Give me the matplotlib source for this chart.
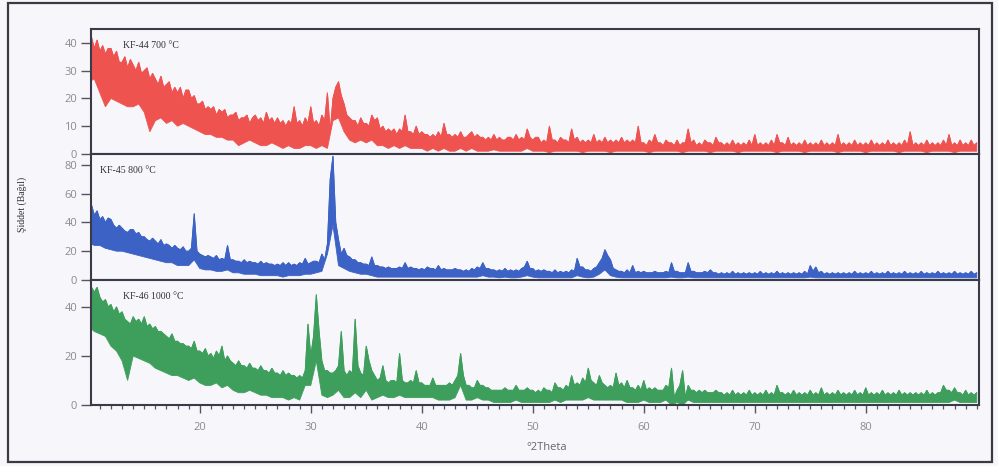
import numpy as np
import matplotlib
matplotlib.use("Agg")
import matplotlib.pyplot as plt
from matplotlib.patches import Rectangle
from matplotlib.ticker import MultipleLocator

# Grids: upper edge of each noisy XRD band every 0.25 deg, lower edge every 0.5 deg (10..90)
top_start, top_step = 10.0, 0.25
base_start, base_step = 10.0, 0.5

# ---- KF-44 700 °C ----
kf44_top = [
    40, 42, 38, 41,  37, 39, 36, 38,  38, 35, 37, 33,  33, 35, 31, 34,
    32, 30, 33, 29,  30, 31, 27, 29,  27, 25, 28, 24,  25, 26, 22, 24,
    22, 24, 20, 23,  23, 20, 21, 18,  18, 19, 16, 17,  16, 17, 14, 16,
    15, 16, 13, 14,  14, 15, 12, 13,  13, 14, 11, 13,  14, 12, 13, 11,
    15, 12, 13, 11,  13, 11, 12, 10,  12, 11, 17, 11,  12, 10, 13, 11,
    17, 11, 12, 10,  14, 12, 22, 8,   20, 24, 26, 21,  18, 14, 13, 12,
    12, 10, 13, 11,  11, 10, 14, 12,  13, 9, 10, 8,    9, 8, 9, 7,
    9, 8, 14, 8,     8, 7, 10, 7,     8, 7, 7, 6,      7, 6, 8, 6,
    11, 7, 7, 6,     7, 6, 8, 6,      6, 7, 8, 6,      7, 6, 6, 5,
    6, 5, 7, 5,      6, 5, 5, 6,      6, 5, 7, 5,      6, 5, 9, 6,
    5, 6, 6, 4,      5, 4, 10, 5,     5, 4, 6, 5,      5, 4, 9, 5,
    6, 4, 5, 4,      5, 4, 7, 4,      5, 4, 6, 4,      5, 4, 5, 4,
    6, 4, 5, 4,      5, 4, 10, 4,     4, 3, 5, 4,      7, 4, 4, 3,
    5, 4, 4, 3,      5, 3, 4, 4,      9, 4, 5, 3,      4, 3, 5, 4,
    4, 3, 6, 4,      4, 3, 4, 3,      5, 3, 4, 3,      4, 3, 5, 3,
    7, 3, 4, 3,      4, 3, 5, 3,      7, 4, 4, 3,      6, 3, 4, 3,
    4, 3, 5, 3,      4, 3, 4, 3,      5, 3, 4, 3,      4, 3, 7, 3,
    4, 3, 4, 3,      5, 3, 4, 3,      4, 3, 5, 3,      4, 3, 4, 3,
    5, 3, 4, 3,      4, 3, 5, 3,      8, 3, 4, 3,      4, 3, 5, 3,
    4, 3, 4, 3,      5, 3, 7, 3,      4, 3, 5, 3,      4, 3, 5, 3,
    4,
]
kf44_base = [
    26, 27, 22, 17, 20, 19, 18, 17, 17, 18, 15, 8, 12, 13, 11, 12,
    10, 11, 10, 9, 8, 7, 7, 6, 6, 5, 5, 3, 4, 5, 4, 3,
    3, 4, 3, 2, 3, 2, 2, 3, 3, 2, 3, 2, 12, 13, 8, 5,
    4, 5, 4, 5, 3, 3, 2, 3, 2, 3, 2, 2, 2, 1, 2, 1,
    2, 1, 1, 2, 1, 2, 1, 1, 1, 1.5, 1, 1, 1, 1, 1, 2,
    1, 1, 1, 0.5, 1, 1, 1, 1, 1, 0.5, 1, 1, 1, 1, 0.5, 1,
    1, 1, 1, 1, 1, 0.5, 1, 1, 1, 1, 1, 0.5, 1, 1, 1, 1,
    0.5, 1, 1, 1, 1, 0.5, 1, 1, 1, 1, 1, 1, 0.5, 1, 1, 1,
    1, 0.5, 1, 1, 1, 1, 1, 0.5, 1, 1, 1, 1, 0.5, 1, 1, 1,
    1, 1, 0.5, 1, 1, 1, 1, 0.5, 1, 1, 1, 1, 0.5, 1, 1, 1,
    1,
]

# ---- KF-45 800 °C ----
kf45_top = [
    50, 52, 45, 48,  42, 44, 40, 43,  42, 38, 36, 38,  36, 34, 33, 35,
    35, 32, 33, 30,  30, 28, 27, 29,  27, 25, 28, 24,  25, 24, 22, 24,
    22, 21, 23, 20,  20, 22, 46, 20,  18, 17, 16, 17,  16, 15, 17, 14,
    15, 14, 24, 14,  14, 13, 13, 12,  14, 12, 13, 12,  12, 11, 13, 11,
    12, 11, 11, 10,  11, 10, 12, 10,  12, 10, 11, 10,  12, 11, 15, 11,
    12, 13, 13, 12,  18, 14, 25, 70,  86, 40, 28, 18,  22, 17, 16, 14,
    14, 12, 12, 11,  11, 10, 16, 10,  10, 9, 9, 8,     9, 8, 8, 8,
    9, 8, 12, 8,     9, 8, 8, 7,      8, 7, 9, 8,      8, 7, 10, 7,
    8, 7, 7, 7,      8, 7, 7, 6,      7, 6, 8, 7,      9, 8, 12, 8,
    8, 7, 7, 6,      7, 6, 8, 6,      7, 6, 7, 6,      8, 9, 13, 8,
    8, 6, 7, 6,      7, 6, 6, 5,      7, 5, 6, 5,      6, 5, 7, 6,
    15, 9, 9, 7,     7, 6, 8, 9,      12, 15, 21, 17,  14, 8, 7, 6,
    6, 5, 7, 5,      10, 5, 6, 5,     6, 5, 5, 5,      6, 5, 5, 5,
    6, 5, 12, 6,     6, 5, 5, 5,      12, 6, 6, 5,     5, 5, 6, 5,
    7, 5, 5, 4,      5, 4, 5, 4,      6, 4, 5, 4,      5, 4, 5, 4,
    5, 4, 6, 4,      5, 4, 5, 4,      6, 4, 5, 4,      5, 4, 5, 4,
    5, 4, 6, 4,      10, 6, 9, 5,     6, 4, 5, 4,      5, 4, 5, 4,
    5, 4, 5, 4,      6, 4, 5, 4,      5, 4, 6, 4,      5, 4, 5, 4,
    6, 4, 5, 4,      5, 4, 6, 4,      5, 4, 5, 4,      6, 4, 5, 4,
    5, 4, 6, 4,      5, 4, 5, 4,      6, 4, 5, 4,      5, 4, 6, 4,
    5,
]
kf45_base = [
    26, 24, 24, 22, 21, 20, 20, 19, 18, 17, 16, 15, 14, 13, 12, 12,
    10, 10, 10, 14, 8, 7, 7, 6, 6, 7, 5, 5, 4, 4, 4, 3,
    3, 3, 3, 2, 3, 3, 3, 4, 4, 5, 6, 18, 38, 10, 8, 6,
    5, 4, 4, 3, 2, 2, 2, 2, 2, 2, 2, 2, 2, 2, 2, 2,
    2, 2, 2, 2, 2, 2, 2, 3, 2, 2, 1.5, 2, 1.5, 1.5, 2, 3,
    2, 1.5, 1.5, 1.5, 1.5, 1.5, 1.5, 1.5, 3, 2, 1.5, 2, 4, 7, 3, 2,
    1.5, 1.5, 1.5, 1.5, 1.5, 1.5, 1.5, 1.5, 1.5, 2, 1.5, 1.5, 2, 1.5, 1.5, 1.5,
    1.5, 1.5, 1.5, 1.5, 1.5, 1.5, 1.5, 1.5, 1.5, 1.5, 1.5, 1.5, 1.5, 1.5, 1.5, 1.5,
    1.5, 1.5, 2, 1.5, 1.5, 1.5, 1.5, 1.5, 1.5, 1.5, 1.5, 1.5, 1.5, 1.5, 1.5, 1.5,
    1.5, 1.5, 1.5, 1.5, 1.5, 1.5, 1.5, 1.5, 1.5, 1.5, 1.5, 1.5, 1.5, 1.5, 1.5, 1.5,
    1.5,
]

# ---- KF-46 1000 °C ----
kf46_top = [
    50, 48, 46, 48,  44, 42, 43, 40,  41, 38, 40, 37,  38, 35, 34, 33,
    36, 34, 35, 33,  36, 32, 33, 31,  32, 30, 30, 29,  28, 27, 29, 26,
    26, 25, 25, 24,  24, 23, 26, 22,  22, 21, 23, 20,  21, 19, 22, 20,
    24, 18, 20, 18,  17, 16, 18, 16,  16, 15, 17, 15,  15, 14, 16, 14,
    14, 13, 15, 13,  13, 12, 14, 12,  13, 12, 12, 11,  12, 11, 14, 33,
    20, 28, 45, 30,  18, 14, 14, 13,  13, 14, 16, 30,  14, 12, 14, 13,
    35, 16, 13, 12,  24, 18, 14, 12,  10, 11, 16, 10,  9, 10, 10, 9,
    21, 10, 9, 9,    10, 9, 14, 9,    9, 8, 8, 8,      11, 8, 8, 8,
    8, 8, 9, 8,      10, 12, 21, 12,  8, 8, 7, 7,      10, 8, 8, 7,
    7, 6, 6, 6,      6, 6, 7, 6,      6, 6, 8, 6,      6, 6, 7, 6,
    6, 5, 6, 5,      7, 6, 6, 5,      9, 7, 7, 6,      8, 7, 12, 8,
    9, 8, 11, 9,     15, 10, 9, 8,    12, 9, 8, 7,     8, 7, 13, 8,
    9, 7, 10, 7,     7, 6, 8, 6,      10, 6, 7, 6,     7, 6, 6, 6,
    8, 7, 15, 3,     6, 8, 14, 3,     8, 6, 6, 5,      6, 5, 6, 5,
    5, 5, 6, 5,      5, 4, 5, 4,      6, 4, 5, 4,      5, 4, 6, 4,
    5, 4, 5, 4,      6, 4, 5, 4,      8, 5, 5, 4,      5, 4, 6, 4,
    5, 4, 5, 4,      6, 4, 5, 4,      7, 4, 5, 4,      5, 4, 6, 4,
    5, 4, 5, 4,      6, 4, 5, 4,      7, 4, 5, 4,      5, 4, 6, 4,
    5, 4, 5, 4,      6, 4, 5, 4,      5, 4, 5, 4,      5, 4, 6, 4,
    5, 4, 5, 5,      8, 6, 6, 5,      7, 5, 5, 4,      6, 4, 5, 4,
    5,
]
kf46_base = [
    32, 30, 29, 28, 24, 22, 18, 10, 20, 19, 18, 17, 15, 14, 13, 12,
    12, 11, 10, 11, 9, 8, 8, 9, 7, 8, 6, 5, 5, 6, 5, 4,
    4, 3, 3, 3, 2, 3, 2, 8, 8, 18, 4, 3, 4, 6, 3, 3,
    5, 3, 6, 2, 3, 4, 3, 3, 4, 3, 3, 3, 3, 3, 3, 2,
    2, 2, 3, 8, 2, 2, 3, 2, 2, 1, 1, 1, 1, 2, 1, 1,
    1, 1, 1, 1, 2, 1, 2, 2, 2, 2, 3, 2, 2, 2, 2, 2,
    2, 1, 1, 1, 2, 1, 1, 1, 2, 0, 1, 0, 2, 1, 1, 1,
    1, 1, 1, 1, 1, 1, 1, 1, 1, 1, 1, 1, 1, 1, 1, 1,
    1, 1, 1, 1, 1, 1, 1, 1, 1, 1, 1, 1, 1, 1, 1, 1,
    1, 1, 1, 1, 1, 1, 1, 1, 1, 1, 1, 1, 2, 1, 1, 1,
    1,
]

labels = ["KF-44 700 \u00b0C", "KF-45 800 \u00b0C", "KF-46 1000 \u00b0C"]
tops = [kf44_top, kf45_top, kf46_top]
bases = [kf44_base, kf45_base, kf46_base]
colors = ["#ef5350", "#3c62c6", "#3e9f5d"]
ylims = [45, 87.5, 51]
yticks = [[0, 10, 20, 30, 40], [0, 20, 40, 60, 80], [0, 20, 40]]
label_x = [0.036, 0.010, 0.036]
x_ticks = [20, 30, 40, 50, 60, 70, 80]

bg = "#f6f6fb"
fig = plt.figure(figsize=(9.98, 4.66), dpi=100, facecolor=bg)

W, H = 998.0, 466.0
left_px, right_px = 91, 979
panel_px = [(29, 154), (154, 280), (280, 405)]

fig.add_artist(Rectangle((8 / W, 4 / H), 984 / W, 459 / H, transform=fig.transFigure,
                         fill=False, ec="#3a3a44", lw=1.6))

for i, (top, bot) in enumerate(panel_px):
    ax = fig.add_axes([left_px / W, 1 - bot / H, (right_px - left_px) / W, (bot - top) / H])
    ax.set_facecolor(bg)
    yt = np.asarray(tops[i], dtype=float)
    xt = top_start + top_step * np.arange(len(yt))
    yb = np.asarray(bases[i], dtype=float)
    xb = base_start + base_step * np.arange(len(yb))
    ax.fill(np.concatenate([xt, xb[::-1]]), np.concatenate([yt, yb[::-1]]),
            facecolor=colors[i], edgecolor=colors[i], lw=0.6)
    ax.plot(xt, yt, color=colors[i], lw=0.7)
    ax.set_xlim(10.2, 90.2)
    ax.set_ylim(0, ylims[i])
    ax.set_yticks(yticks[i])
    for s in ax.spines.values():
        s.set_color("#3a3a48")
        s.set_linewidth(1.5)
        s.set_zorder(5)
    ax.tick_params(axis="y", direction="out", length=7, width=1.0, color="#555560",
                   labelcolor="#8a8a90", labelsize=8, pad=3)
    for t in ax.get_yticklabels():
        t.set_family("Open Sans")
    ax.text(label_x[i], 0.87, labels[i], transform=ax.transAxes, ha="left", va="center",
            fontsize=7, family="Liberation Serif", color="#333333")
    if i < 2:
        ax.tick_params(axis="x", bottom=False, labelbottom=False)
    else:
        ax.set_xticks(x_ticks)
        ax.xaxis.set_minor_locator(MultipleLocator(1))
        ax.tick_params(axis="x", which="major", direction="out", length=6, width=1.0,
                       color="#555560", labelcolor="#8a8a90", labelsize=8, pad=6)
        ax.tick_params(axis="x", which="minor", direction="out", length=3, width=0.9,
                       color="#555560")
        for t in ax.get_xticklabels():
            t.set_family("Open Sans")

fig.text(22 / W, 1 - 204 / H, "\u015eiddet (Ba\u011f\u0131l)", rotation=90, ha="center", va="center",
         fontsize=7, family="Liberation Serif", color="#333333")
fig.text(547 / W, 1 - 447 / H, "\u00b02Theta", ha="center", va="center",
         fontsize=8, family="Open Sans", color="#666670")

fig.savefig("out.png", dpi=100, facecolor=bg)
